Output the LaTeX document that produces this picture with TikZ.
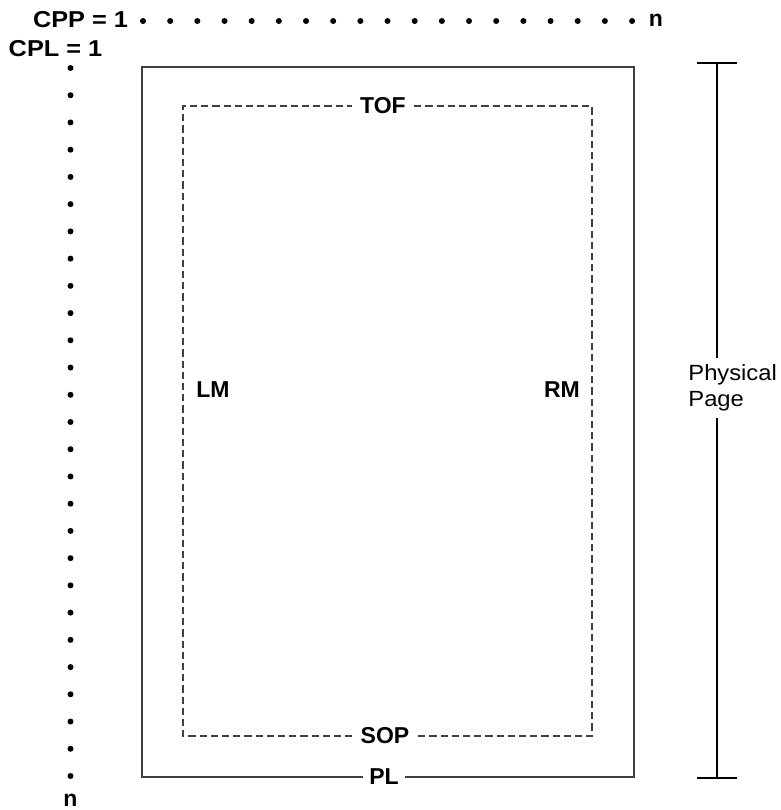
\documentclass[tikz,border=0pt]{standalone}
\usepackage{fontspec}
\setmainfont{Liberation Sans}
\newcommand{\hstretch}[2]{\scalebox{#1}[1]{#2}}

\begin{document}
\begin{tikzpicture}[x=0.5pt,y=-0.5pt]
\tikzset{
  boldlabel/.style={font=\fontsize{11.5}{13}\selectfont\bfseries,inner sep=0pt},
  gaplabel/.style={boldlabel,inner xsep=4pt},
  plainlabel/.style={font=\fontsize{11}{13}\selectfont,align=left,inner xsep=0pt,inner ysep=3pt},
  pageline/.style={line width=0.7pt,draw=black!75},
  marginline/.style={line width=0.55pt,draw=black!75,dash pattern=on 3.6pt off 2pt},
  thinline/.style={line width=0.65pt},
  dotmark/.style={circle,fill,inner sep=0pt,minimum size=3pt}
}
\useasboundingbox (0,0) rectangle (781,810);
\node[boldlabel] (cpp) at (80.5,20) {\hstretch{1.1}{CPP = 1}};
\node[boldlabel] (cpl) at (55.5,49) {\hstretch{1.1}{CPL = 1}};
\node[boldlabel] (n_cpp) at (656,20) {n};
\node[boldlabel] (n_cpl) at (70.5,800) {n};
\foreach \i in {0,...,18}
  \node[dotmark] (dot_cpp_\i) at (143+27.17*\i,21) {};
\foreach \i in {0,...,26}
  \node[dotmark] (dot_cpl_\i) at (70.5,68+27.23*\i) {};
\coordinate (pg_nw) at (142,67);
\coordinate (pg_ne) at (634,67);
\coordinate (pg_se) at (634,777);
\coordinate (pg_sw) at (142,777);
\coordinate (mg_nw) at (183,106);
\coordinate (mg_ne) at (592,106);
\coordinate (mg_se) at (592,736);
\coordinate (mg_sw) at (183,736);
\node[gaplabel,inner xsep=3pt] (pl) at (384,777) {PL};
\node[gaplabel,inner xsep=4pt] (tof) at (383,106) {TOF};
\node[gaplabel] (sop) at (385,736) {SOP};
\node[boldlabel] (lm) at (213,390) {LM};
\node[boldlabel] (rm) at (562,390) {RM};
\draw[pageline] (pl.west) -- (pg_sw) -- (pg_nw) -- (pg_ne) -- (pg_se) -- (pl.east);
\draw[marginline] (tof.east) -- (mg_ne) -- (mg_se) -- (sop.east);
\draw[marginline] (sop.west) -- (mg_sw) -- (mg_nw) -- (tof.west);
\coordinate (brk_top) at (717,63);
\coordinate (brk_bot) at (717,778);
\node[plainlabel,anchor=west] (phys) at (688,388) {\hstretch{1.08}{Physical}\\\hstretch{1.08}{Page}};
\draw[thinline] (brk_top) -- (brk_top |- phys.north);
\draw[thinline] (brk_bot) -- (brk_bot |- phys.south);
\draw[thinline] ([xshift=-10pt]brk_top) -- ([xshift=10pt]brk_top);
\draw[thinline] ([xshift=-10pt]brk_bot) -- ([xshift=10pt]brk_bot);
\end{tikzpicture}
\end{document}
